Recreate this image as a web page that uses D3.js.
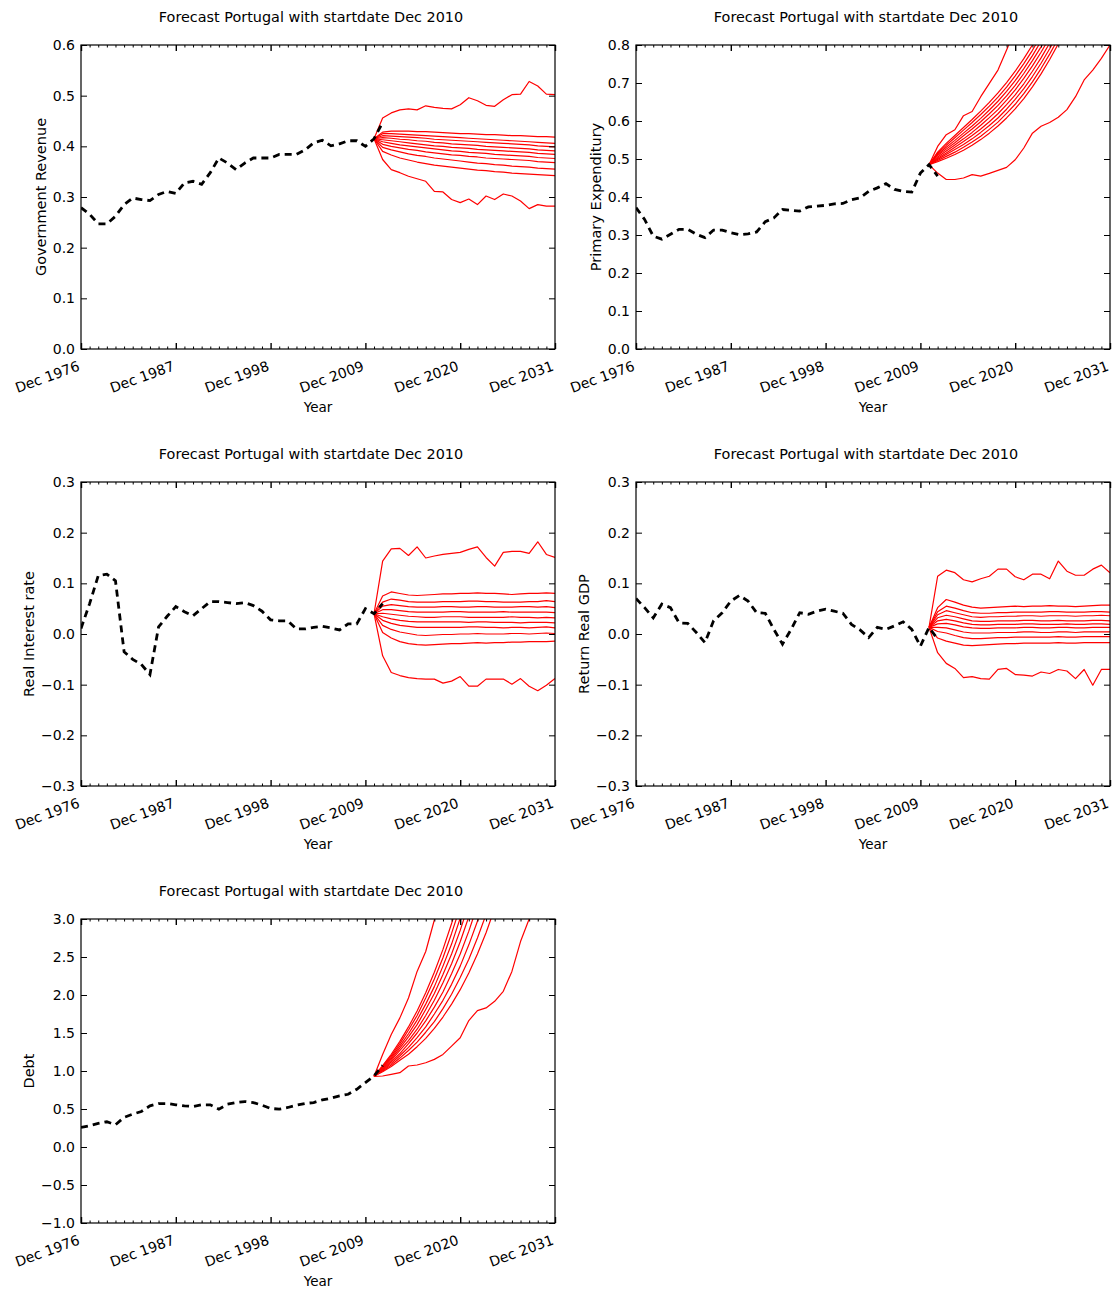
<!DOCTYPE html>
<html><head><meta charset="utf-8">
<script src="https://cdn.jsdelivr.net/npm/d3@7"></script>
<style>
body{margin:0;background:#fff}
svg{display:block}
text{font-family:"DejaVu Sans",sans-serif;fill:#000}
</style>
</head><body>
<svg id="c" width="1116" height="1291"></svg>
<script>
// ---------- data ----------
const histYears = [1976,1977,1978,1979,1980,1981,1982,1983,1984,1985,1986,1987,1988,1989,1990,1991,1992,1993,1994,1995,1996,1997,1998,1999,2000,2001,2002,2003,2004,2005,2006,2007,2008,2009,2010,2011];
const fcYears = [2010,2011,2012,2013,2014,2015,2016,2017,2018,2019,2020,2021,2022,2023,2024,2025,2026,2027,2028,2029,2030,2031];
const xMajorTicks = [1976,1987,1998,2009,2020,2031];
const xTickLabels = ["Dec 1976","Dec 1987","Dec 1998","Dec 2009","Dec 2020","Dec 2031"];
const titleText = "Forecast Portugal with startdate Dec 2010";
const xLabel = "Year";

// Government Revenue
const revenueHist = [0.279,0.266,0.247,0.247,0.262,0.285,0.298,0.295,0.293,0.305,0.311,0.307,0.328,0.331,0.325,0.348,0.377,0.367,0.354,0.367,0.377,0.377,0.377,0.384,0.384,0.384,0.393,0.407,0.412,0.401,0.405,0.411,0.411,0.400,0.415,0.447];
const revenueUpper = [0.415,0.456,0.466,0.472,0.474,0.472,0.480,0.477,0.475,0.474,0.482,0.496,0.490,0.481,0.479,0.492,0.502,0.503,0.528,0.519,0.503,0.502];
const revenueLower = [0.415,0.374,0.354,0.348,0.341,0.336,0.331,0.311,0.310,0.295,0.289,0.296,0.285,0.302,0.295,0.306,0.302,0.292,0.277,0.285,0.282,0.282];
const revenueInner = [
 [.415,.428,.430,.430,.430,.429,.429,.428,.427,.426,.425,.425,.424,.423,.423,.422,.421,.421,.420,.419,.419,.418],
 [.415,.425,.425,.424,.423,.422,.421,.420,.419,.418,.417,.416,.415,.414,.413,.412,.411,.410,.409,.408,.407,.406],
 [.415,.421,.420,.419,.418,.417,.416,.414,.413,.412,.411,.410,.409,.408,.407,.406,.405,.404,.403,.401,.400,.399],
 [.415,.417,.416,.414,.413,.411,.410,.408,.407,.405,.404,.403,.402,.400,.399,.398,.397,.396,.395,.393,.392,.391],
 [.415,.413,.411,.409,.407,.405,.403,.401,.400,.398,.397,.396,.394,.393,.392,.391,.390,.389,.388,.386,.385,.384],
 [.415,.409,.406,.403,.401,.399,.397,.395,.393,.391,.390,.388,.387,.386,.384,.383,.382,.381,.380,.378,.377,.376],
 [.415,.404,.400,.397,.394,.392,.389,.387,.385,.383,.382,.380,.379,.377,.376,.375,.374,.373,.372,.370,.369,.368],
 [.415,.398,.393,.389,.385,.382,.380,.377,.375,.373,.371,.369,.367,.366,.364,.363,.361,.360,.359,.357,.356,.355],
 [.415,.390,.383,.377,.373,.369,.366,.363,.361,.359,.357,.355,.353,.352,.350,.349,.347,.346,.345,.344,.343,.342]
];

// Primary Expenditury
const expendHist = [0.372,0.341,0.297,0.289,0.302,0.315,0.315,0.302,0.293,0.313,0.313,0.306,0.301,0.303,0.308,0.335,0.345,0.367,0.365,0.363,0.374,0.376,0.378,0.382,0.383,0.393,0.398,0.415,0.424,0.435,0.420,0.415,0.413,0.463,0.485,0.455];
const expendUpper = [0.485,0.533,0.564,0.577,0.614,0.625,0.664,0.699,0.734,0.787,0.840];
const expendLower = [0.485,0.463,0.446,0.446,0.450,0.459,0.455,0.462,0.470,0.478,0.498,0.529,0.568,0.586,0.596,0.610,0.630,0.664,0.708,0.734,0.765,0.800];
const expendInner = [
 [.485,.518,.541,.562,.583,.604,.626,.649,.674,.701,.731,.764,.800,.840],
 [.485,.515,.536,.556,.576,.596,.617,.639,.663,.689,.719,.751,.786,.825],
 [.485,.512,.531,.549,.568,.587,.607,.629,.652,.678,.706,.738,.772,.810],
 [.485,.509,.526,.543,.561,.579,.598,.619,.641,.666,.694,.725,.759,.795,.835],
 [.485,.505,.521,.537,.553,.570,.589,.609,.630,.655,.682,.712,.745,.781,.820],
 [.485,.502,.516,.531,.546,.562,.579,.598,.619,.643,.669,.698,.731,.766,.805],
 [.485,.499,.512,.525,.538,.553,.570,.588,.608,.631,.657,.685,.717,.752,.790,.830],
 [.485,.496,.507,.518,.531,.545,.560,.578,.597,.620,.644,.672,.703,.738,.776,.817],
 [.485,.493,.502,.512,.523,.536,.551,.568,.587,.608,.632,.659,.690,.724,.762,.803,.850]
];

// Real Interest rate
const interestHist = [0.011,0.060,0.115,0.118,0.105,-0.035,-0.050,-0.060,-0.080,0.014,0.035,0.054,0.044,0.036,0.050,0.064,0.064,0.062,0.060,0.062,0.056,0.045,0.028,0.026,0.026,0.010,0.010,0.013,0.015,0.012,0.008,0.020,0.020,0.050,0.040,0.060];
const interestUpper = [0.040,0.144,0.168,0.169,0.155,0.172,0.150,0.154,0.157,0.159,0.161,0.167,0.172,0.151,0.134,0.161,0.163,0.163,0.159,0.182,0.157,0.151];
const interestLower = [0.040,-0.043,-0.076,-0.082,-0.086,-0.088,-0.089,-0.089,-0.097,-0.093,-0.084,-0.103,-0.103,-0.089,-0.089,-0.089,-0.099,-0.088,-0.103,-0.112,-0.101,-0.088];
const interestInner = [
 [.040,.075,.083,.080,.077,.076,.077,.078,.079,.079,.080,.080,.081,.080,.080,.079,.078,.079,.080,.080,.081,.080],
 [.040,.063,.069,.067,.064,.063,.063,.063,.064,.064,.064,.065,.065,.064,.064,.063,.063,.063,.064,.064,.066,.064],
 [.040,.055,.058,.056,.054,.053,.053,.053,.054,.054,.053,.053,.054,.054,.053,.053,.053,.054,.054,.053,.054,.052],
 [.040,.048,.048,.046,.044,.043,.043,.043,.043,.044,.044,.043,.043,.043,.043,.044,.043,.043,.043,.043,.043,.042],
 [.040,.041,.039,.037,.035,.034,.033,.033,.034,.034,.034,.033,.033,.033,.033,.033,.034,.033,.033,.032,.033,.032],
 [.040,.034,.030,.027,.025,.024,.024,.024,.024,.024,.024,.023,.024,.024,.023,.023,.023,.022,.023,.023,.023,.022],
 [.040,.027,.021,.017,.015,.013,.013,.013,.013,.013,.013,.014,.014,.013,.013,.012,.013,.013,.012,.013,.014,.012],
 [.040,.017,.009,.004,.001,-.002,-.003,-.002,-.001,-.001,.000,.000,.001,.000,.000,.000,.001,.001,.000,.001,.002,.001],
 [.040,.003,-.008,-.015,-.019,-.021,-.022,-.021,-.020,-.019,-.019,-.018,-.017,-.018,-.017,-.017,-.016,-.016,-.015,-.015,-.015,-.014]
];

// Return Real GDP
const gdpHist = [0.070,0.052,0.032,0.059,0.052,0.022,0.021,0.003,-0.017,0.026,0.042,0.065,0.076,0.065,0.042,0.041,0.009,-0.020,0.009,0.042,0.039,0.045,0.049,0.045,0.041,0.019,0.008,-0.007,0.013,0.009,0.016,0.024,0.009,-0.024,0.013,-0.010];
const gdpUpper = [0.013,0.114,0.126,0.121,0.107,0.103,0.109,0.114,0.128,0.128,0.113,0.107,0.118,0.118,0.109,0.144,0.124,0.116,0.116,0.128,0.136,0.121];
const gdpLower = [0.013,-0.037,-0.058,-0.068,-0.086,-0.084,-0.088,-0.089,-0.070,-0.068,-0.080,-0.081,-0.083,-0.075,-0.078,-0.070,-0.073,-0.088,-0.070,-0.101,-0.070,-0.070];
const gdpInner = [
 [.013,.052,.068,.063,.057,.053,.051,.052,.053,.054,.055,.054,.055,.055,.056,.055,.055,.054,.055,.056,.057,.057],
 [.013,.044,.055,.051,.046,.042,.041,.041,.042,.042,.043,.043,.043,.043,.044,.044,.043,.043,.043,.044,.044,.043],
 [.013,.038,.046,.042,.038,.034,.033,.034,.034,.035,.035,.036,.036,.035,.036,.036,.036,.035,.036,.036,.037,.036],
 [.013,.032,.037,.034,.030,.026,.025,.025,.026,.026,.026,.027,.027,.026,.026,.027,.026,.026,.026,.027,.027,.026],
 [.013,.026,.029,.026,.022,.019,.018,.018,.019,.019,.019,.020,.020,.019,.019,.019,.020,.019,.019,.020,.020,.019],
 [.013,.020,.021,.018,.014,.012,.011,.011,.012,.012,.012,.013,.013,.012,.012,.013,.013,.012,.012,.013,.013,.013],
 [.013,.013,.012,.008,.004,.002,.002,.002,.003,.003,.003,.004,.004,.003,.003,.004,.004,.003,.004,.004,.004,.004],
 [.013,.005,.002,-.003,-.007,-.009,-.009,-.008,-.007,-.007,-.006,-.006,-.006,-.006,-.006,-.005,-.006,-.006,-.005,-.005,-.005,-.005],
 [.013,-.008,-.014,-.018,-.022,-.023,-.022,-.021,-.020,-.019,-.019,-.018,-.018,-.018,-.018,-.017,-.018,-.018,-.017,-.017,-.017,-.017]
];

// Debt
const debtHist = [0.258,0.280,0.310,0.332,0.293,0.389,0.432,0.467,0.541,0.572,0.572,0.555,0.541,0.533,0.555,0.555,0.498,0.563,0.585,0.598,0.585,0.550,0.507,0.498,0.520,0.550,0.572,0.585,0.620,0.642,0.672,0.694,0.760,0.847,0.934,1.074];
const debtUpper = [0.93,1.218,1.48,1.699,1.96,2.31,2.572,2.987,3.4];
const debtLower = [0.93,0.934,0.956,0.978,1.066,1.079,1.109,1.153,1.218,1.328,1.437,1.664,1.795,1.83,1.917,2.048,2.31,2.703,3.0,3.3];
const debtInner = [
 [0.93,1.07,1.22,1.39,1.58,1.79,2.03,2.30,2.60,2.94,3.32],
 [0.93,1.06,1.20,1.36,1.54,1.73,1.96,2.21,2.49,2.81,3.16],
 [0.93,1.05,1.18,1.33,1.49,1.67,1.88,2.11,2.38,2.67,3.01],
 [0.93,1.04,1.16,1.30,1.45,1.61,1.81,2.02,2.27,2.54,2.85,3.20],
 [0.93,1.03,1.14,1.27,1.40,1.55,1.73,1.93,2.16,2.41,2.70,3.03],
 [0.93,1.02,1.12,1.23,1.36,1.50,1.66,1.84,2.04,2.28,2.54,2.84,3.18],
 [0.93,1.01,1.10,1.20,1.31,1.44,1.58,1.75,1.93,2.14,2.38,2.66,2.97,3.30],
 [0.93,1.00,1.08,1.17,1.27,1.38,1.51,1.65,1.82,2.01,2.23,2.47,2.75,3.06],
 [0.93,0.99,1.06,1.14,1.22,1.32,1.43,1.56,1.71,1.88,2.07,2.29,2.54,2.82,3.14]
];

const yLabels = ["Government Revenue","Primary Expenditury","Real Interest rate","Return Real GDP","Debt"];
const yDomains = [[0,0.6],[0,0.8],[-0.3,0.3],[-0.3,0.3],[-1,3]];
const yTickValues = [
 [0,0.1,0.2,0.3,0.4,0.5,0.6],
 [0,0.1,0.2,0.3,0.4,0.5,0.6,0.7,0.8],
 [-0.3,-0.2,-0.1,0,0.1,0.2,0.3],
 [-0.3,-0.2,-0.1,0,0.1,0.2,0.3],
 [-1,-0.5,0,0.5,1,1.5,2,2.5,3]
];
const histSeries = [revenueHist, expendHist, interestHist, gdpHist, debtHist];
const upperSeries = [revenueUpper, expendUpper, interestUpper, gdpUpper, debtUpper];
const lowerSeries = [revenueLower, expendLower, interestLower, gdpLower, debtLower];
const innerSeries = [revenueInner, expendInner, interestInner, gdpInner, debtInner];

// ---------- layout ----------
const colLeft = [81, 636];
const rowTop = [45, 482, 919];
const W = 474, H = 304;
const svg = d3.select("#c");

histSeries.forEach((hist, p) => {
  const left = colLeft[p % 2], top = rowTop[Math.floor(p / 2)];
  const g = svg.append("g").attr("transform", `translate(${left},${top})`);
  const x = d3.scaleLinear().domain([1976, 2031]).range([0, W]);
  const y = d3.scaleLinear().domain(yDomains[p]).range([H, 0]);

  const clipId = "clip" + p;
  g.append("clipPath").attr("id", clipId).append("rect")
    .attr("x", 0).attr("y", 0).attr("width", W).attr("height", H);
  const plot = g.append("g").attr("clip-path", `url(#${clipId})`);

  const fcLine = d3.line().x((d, i) => x(fcYears[i])).y(d => y(d));
  const fans = [upperSeries[p], ...innerSeries[p], lowerSeries[p]];
  plot.selectAll("path.fc").data(fans).join("path")
    .attr("class", "fc")
    .attr("d", fcLine)
    .attr("fill", "none").attr("stroke", "#ff0000").attr("stroke-width", 1.2)
    .attr("stroke-linejoin", "round");

  const hLine = d3.line().x((d, i) => x(histYears[i])).y(d => y(d));
  plot.append("path").datum(hist).attr("d", hLine)
    .attr("fill", "none").attr("stroke", "#000").attr("stroke-width", 2.8)
    .attr("stroke-dasharray", "7,5");

  // frame
  g.append("rect").attr("x", 0).attr("y", 0).attr("width", W).attr("height", H)
    .attr("fill", "none").attr("stroke", "#000").attr("stroke-width", 1.2);

  const minorYears = d3.range(1976, 2032).filter(v => !xMajorTicks.includes(v));

  // bottom axis major with labels
  const bottom = g.append("g").attr("transform", `translate(0,${H})`)
    .call(d3.axisBottom(x).tickValues(xMajorTicks).tickSize(-6)
      .tickFormat((d, i) => xTickLabels[i]));
  bottom.select(".domain").remove();
  bottom.selectAll("line").attr("stroke", "#000").attr("stroke-width", 1.4);
  bottom.selectAll("text")
    .attr("y", 0).attr("dy", 0).attr("x", 0)
    .attr("text-anchor", "end")
    .attr("transform", "translate(-1,21) rotate(-20)")
    .style("font-size", "14px").style("font-family", "DejaVu Sans");
  // bottom minor
  const bm = g.append("g").attr("transform", `translate(0,${H})`)
    .call(d3.axisBottom(x).tickValues(minorYears).tickSize(-2.5).tickFormat(""));
  bm.select(".domain").remove();
  bm.selectAll("line").attr("stroke", "#000");
  // top major / minor
  const tmaj = g.append("g").call(d3.axisTop(x).tickValues(xMajorTicks).tickSize(-6).tickFormat(""));
  tmaj.select(".domain").remove();
  tmaj.selectAll("line").attr("stroke", "#000").attr("stroke-width", 1.4);
  const tmin = g.append("g").call(d3.axisTop(x).tickValues(minorYears).tickSize(-2.5).tickFormat(""));
  tmin.select(".domain").remove();
  tmin.selectAll("line").attr("stroke", "#000");

  // left axis
  const la = g.append("g").call(d3.axisLeft(y).tickValues(yTickValues[p]).tickSize(-6)
    .tickPadding(6).tickFormat(d3.format(".1f")));
  la.select(".domain").remove();
  la.selectAll("line").attr("stroke", "#000");
  la.selectAll("text").style("font-size", "14px").style("font-family", "DejaVu Sans");
  // right axis
  const ra = g.append("g").attr("transform", `translate(${W},0)`)
    .call(d3.axisRight(y).tickValues(yTickValues[p]).tickSize(-6).tickFormat(""));
  ra.select(".domain").remove();
  ra.selectAll("line").attr("stroke", "#000");

  // y label position from tick label widths
  let maxW = 0;
  la.selectAll("text").each(function () { maxW = Math.max(maxW, this.getBBox().width); });
  const ylx = -(6 + maxW) - 7;
  g.append("text").attr("transform", `translate(${ylx},${H / 2}) rotate(-90)`)
    .attr("text-anchor", "middle").style("font-size", "14.5px").text(yLabels[p]);

  // x label
  g.append("text").attr("x", W / 2).attr("y", H + 63).attr("text-anchor", "middle")
    .style("font-size", "13.5px").text(xLabel);

  // title
  g.append("text").attr("x", W / 2 - 7).attr("y", -23).attr("text-anchor", "middle")
    .style("font-size", "14.4px").text(titleText);
});
</script>
</body></html>
